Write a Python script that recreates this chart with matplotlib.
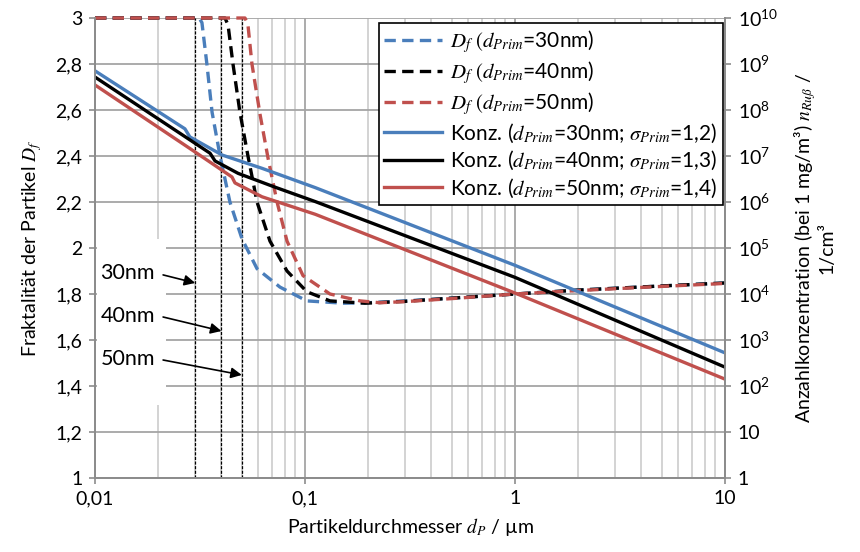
import matplotlib
matplotlib.use("Agg")
import matplotlib.pyplot as plt
from matplotlib.ticker import FixedLocator, LogLocator, NullFormatter, NullLocator
from matplotlib.patches import Rectangle

plt.rcParams['font.family'] = ['Lato', 'DejaVu Sans']
plt.rcParams['mathtext.fontset'] = 'stix'

BLUE = '#4a7ebb'
BLACK = '#000000'
RED = '#c0504d'

# Fraktale Dimension Df (linke Achse)
df30_x = [0.01, 0.0313, 0.0323, 0.0341, 0.0361, 0.0394, 0.0439, 0.0501, 0.0591, 0.076, 0.102, 0.152, 0.2, 0.3, 0.5, 1.0, 2.0, 5.0, 10.0]
df30_y = [3.0, 3.0, 2.98, 2.80, 2.59, 2.40, 2.20, 2.04, 1.91, 1.83, 1.77, 1.76, 1.762, 1.77, 1.782, 1.80, 1.817, 1.835, 1.848]
df40_x = [0.01, 0.0416, 0.043, 0.0454, 0.049, 0.0535, 0.0591, 0.0681, 0.0821, 0.102, 0.1315, 0.193, 0.3, 0.5, 1.0, 2.0, 5.0, 10.0]
df40_y = [3.0, 3.0, 2.97, 2.80, 2.59, 2.40, 2.20, 2.03, 1.90, 1.81, 1.77, 1.76, 1.768, 1.782, 1.80, 1.817, 1.835, 1.848]
df50_x = [0.01, 0.0518, 0.0535, 0.0559, 0.0611, 0.0667, 0.0736, 0.0821, 0.0978, 0.1315, 0.183, 0.2275, 0.3, 0.5, 1.0, 2.0, 5.0, 10.0]
df50_y = [3.0, 3.0, 2.97, 2.80, 2.58, 2.39, 2.20, 2.03, 1.88, 1.80, 1.77, 1.762, 1.767, 1.78, 1.80, 1.815, 1.833, 1.846]

# Anzahlkonzentration (rechte Achse)
n30_x = [0.01, 0.0268, 0.0283, 0.0403, 0.0624, 0.112, 1.0, 10.0]
n30_y = [7.1e8, 3.9e7, 2.6e7, 1.05e7, 5.4e6, 2.05e6, 4.2e4, 525]
n40_x = [0.01, 0.0353, 0.0373, 0.048, 0.072, 0.112, 1.0, 10.0]
n40_y = [5.2e8, 1.15e7, 7.8e6, 4.2e6, 2.1e6, 1.02e6, 2.3e4, 257]
n50_x = [0.01, 0.0299, 0.0449, 0.0464, 0.0624, 0.112, 1.0, 10.0]
n50_y = [3.5e8, 1.23e7, 3.5e6, 2.6e6, 1.3e6, 5.4e5, 1.05e4, 141]

dprim = [0.03, 0.04, 0.05]
dprim_labels = ['30nm', '40nm', '50nm']

left_ticks = [1, 1.2, 1.4, 1.6, 1.8, 2, 2.2, 2.4, 2.6, 2.8, 3]
right_ticks = [10.0 ** k for k in range(11)]
x_ticks = [0.01, 0.1, 1, 10]

fig = plt.figure(figsize=(8.6, 5.52), dpi=100)
ax = fig.add_axes([95 / 860, 1 - 478 / 552, 630 / 860, 460 / 552])
ax2 = ax.twinx()

ax.set_xscale('log')
ax.set_xlim(0.01, 10)
ax.set_ylim(1, 3)
ax2.set_yscale('log')
ax2.set_ylim(1, 1e10)

# Gitter
ax.xaxis.set_major_locator(FixedLocator(x_ticks))
ax.xaxis.set_minor_locator(LogLocator(base=10, subs=range(2, 10)))
ax.xaxis.set_minor_formatter(NullFormatter())
ax.set_xticklabels(['0,01', '0,1', '1', '10'])
ax.yaxis.set_major_locator(FixedLocator(left_ticks))
ax.set_yticklabels([('%g' % v).replace('.', ',') for v in left_ticks])
ax.grid(which='major', color='#a5a5a5', lw=1.3)
ax.grid(which='minor', axis='x', color='#c8c8c8', lw=1.1)
ax.set_axisbelow(True)

ax2.yaxis.set_major_locator(FixedLocator(right_ticks))
ax2.yaxis.set_minor_locator(NullLocator())
rlabels = ['1', '10'] + [r'$\mathregular{10^{%d}}$' % k for k in range(2, 11)]
ax2.set_yticklabels(rlabels)

for a in (ax, ax2):
    for s in a.spines.values():
        s.set_color('#8c8c8c')
        s.set_linewidth(1.3)
    a.tick_params(which='major', length=4, width=1.2, color='#8c8c8c', labelsize=14, pad=5)
    a.tick_params(which='minor', length=0)
ax.spines['top'].set_visible(False)
ax2.spines['top'].set_visible(False)

# Primaerpartikel-Linien
for d in dprim:
    ax.axvline(d, color='black', lw=0.9, ls=(0, (2.5, 1.2)), zorder=2)

# weisses Feld hinter den Beschriftungen
ax.add_patch(Rectangle((0.003, 0.159), 0.11, 0.36, transform=ax.transAxes,
                       facecolor='white', edgecolor='none', zorder=1.5))

text_y = [1.891, 1.704, 1.517]
tail_y = [1.883, 1.70, 1.513]
head_y = [1.848, 1.639, 1.448]
for d, lab, ty, sy, hy in zip(dprim, dprim_labels, text_y, tail_y, head_y):
    ax.text(0.0106, ty, lab, fontsize=15.5, va='center', ha='left', zorder=3)
    ax.annotate('', xy=(d, hy), xytext=(0.0211, sy),
                arrowprops=dict(arrowstyle='-|>', color='black', lw=1.2,
                                mutation_scale=16, shrinkA=0, shrinkB=0), zorder=3)

dash = (0, (3.4, 1.9))
lw = 2.4
h1, = ax.plot(df30_x, df30_y, color=BLUE, lw=lw, ls=dash, clip_on=False, zorder=4,
              label=r'$D_f\ (d_{Prim}$=30nm)')
h2, = ax.plot(df40_x, df40_y, color=BLACK, lw=lw, ls=dash, clip_on=False, zorder=4,
              label=r'$D_f\ (d_{Prim}$=40nm)')
h3, = ax.plot(df50_x, df50_y, color=RED, lw=lw, ls=dash, clip_on=False, zorder=4,
              label=r'$D_f\ (d_{Prim}$=50nm)')
h4, = ax2.plot(n30_x, n30_y, color=BLUE, lw=lw, label=r'Konz. ($d_{Prim}$=30nm; $\sigma_{Prim}$=1,2)')
h5, = ax2.plot(n40_x, n40_y, color=BLACK, lw=lw, label=r'Konz. ($d_{Prim}$=40nm; $\sigma_{Prim}$=1,3)')
h6, = ax2.plot(n50_x, n50_y, color=RED, lw=lw, label=r'Konz. ($d_{Prim}$=50nm; $\sigma_{Prim}$=1,4)')

leg = ax2.legend(handles=[h1, h2, h3, h4, h5, h6], loc='upper right',
                 bbox_to_anchor=(723 / 860, 1 - 23 / 552), bbox_transform=fig.transFigure,
                 borderaxespad=0, fontsize=15, handlelength=2.8, labelspacing=0.2,
                 handletextpad=0.4, borderpad=0.25, fancybox=False, framealpha=1)
leg.get_frame().set_edgecolor('black')
leg.get_frame().set_linewidth(1.2)

ax.set_xlabel(r'Partikeldurchmesser $d_P$ / µm', fontsize=14, labelpad=6)
ax.set_ylabel(r'Fraktalität der Partikel $D_f$', fontsize=14, labelpad=8)
ax2.set_ylabel('Anzahlkonzentration (bei 1 mg/m³) $n_{Ruß}$ /\n1/cm³',
               fontsize=14, labelpad=10, linespacing=1.1)

fig.savefig('out.png', dpi=100)
